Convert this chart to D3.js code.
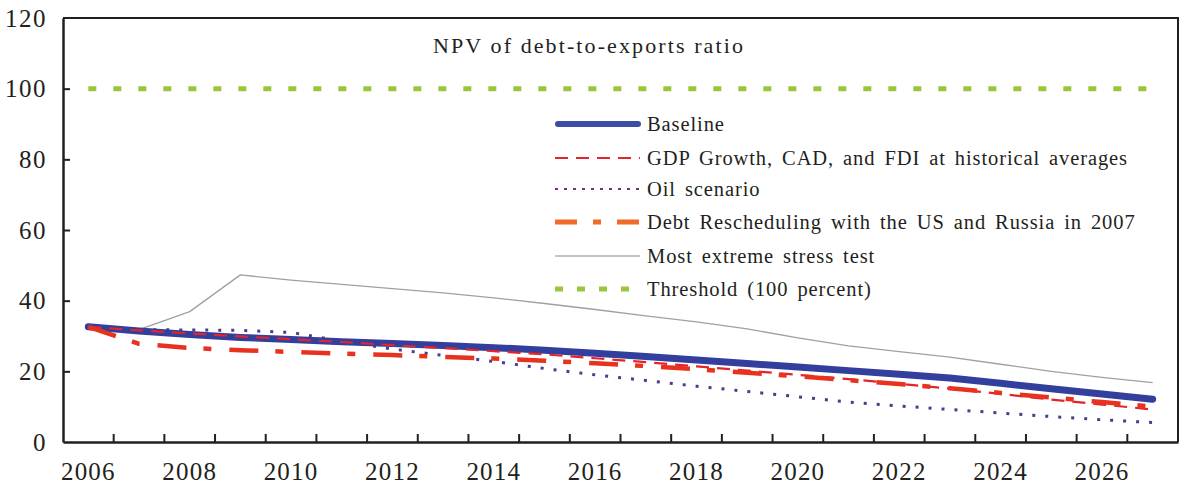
<!DOCTYPE html>
<html>
<head>
<meta charset="utf-8">
<script src="https://cdn.jsdelivr.net/npm/d3@7"></script>
<style>
  html, body { margin: 0; padding: 0; background: #fff; }
  svg { display: block; }
  text { font-family: "Liberation Serif", "Times New Roman", serif; fill: #231f20; }
</style>
</head>
<body>
<svg id="chart" width="1183" height="485"></svg>
<script>
const years = d3.range(2006, 2028);
const baseline = [32.6, 31.4, 30.4, 29.6, 29.0, 28.4, 27.9, 27.3, 26.7, 26.0, 25.1, 24.2, 23.2, 22.2, 21.2, 20.2, 19.2, 18.1, 16.6, 15.1, 13.6, 12.1];
const gdpHist = [32.6, 31.6, 30.7, 29.9, 29.1, 28.3, 27.4, 26.6, 25.7, 24.8, 23.7, 22.6, 21.4, 20.2, 19.0, 17.8, 16.5, 15.1, 13.6, 12.0, 10.6, 9.2];
const oilScen = [32.6, 31.8, 31.7, 31.6, 31.0, 28.5, 26.3, 24.5, 22.8, 20.8, 19.0, 17.4, 15.8, 14.3, 12.8, 11.3, 10.2, 9.2, 8.2, 7.2, 6.3, 5.5];
const debtResch = [32.6, 27.8, 26.6, 26.0, 25.5, 25.0, 24.6, 24.1, 23.6, 23.0, 22.3, 21.5, 20.6, 19.6, 18.6, 17.5, 16.4, 15.2, 13.9, 12.6, 11.3, 10.0];
const stressTest = [32.6, 31.8, 36.9, 47.3, 45.8, 44.6, 43.4, 42.2, 40.8, 39.2, 37.5, 35.7, 34.0, 32.0, 29.5, 27.2, 25.6, 24.0, 22.0, 20.0, 18.3, 16.8];
const threshold = years.map(() => 100);
const yTicks = [0, 20, 40, 60, 80, 100, 120];
const xLabelYears = years.filter((d, i) => i % 2 === 0);
const title = "NPV of debt-to-exports ratio";
const seriesNames = [
  "Baseline",
  "GDP Growth, CAD, and FDI at historical averages",
  "Oil scenario",
  "Debt Rescheduling with the US and Russia in 2007",
  "Most extreme stress test",
  "Threshold (100 percent)"
];

const L = 63, R = 1178, T = 18, B = 442;
const svg = d3.select("#chart");
const x = d3.scaleBand().domain(years).range([L, R]).paddingInner(0).paddingOuter(0);
const y = d3.scaleLinear().domain([0, 120]).range([B, T]);
const cx = yr => x(yr) + x.bandwidth() / 2;

const styles = [
  { data: baseline,   color: "#323f9c", width: 7,   dash: null,        cap: "round", lcolor: "#3b4ea3", lwidth: 6 },
  { data: gdpHist,    color: "#e3242b", width: 2.2, dash: "13,8",      cap: "butt",  lcolor: "#e3242b", lwidth: 2.2, ldash: "13,8" },
  { data: oilScen,    color: "#4b3c8c", width: 3,   dash: "3,10",      cap: "butt",  lcolor: "#7a2a8a", lwidth: 2, ldash: "3,6" },
  { data: debtResch,  color: "#e8321e", width: 4.5, dash: "29,17,8,18", cap: "butt", lcolor: "#f06a2c", lwidth: 5, ldash: "22,16,8,16" },
  { data: stressTest, color: "#a0a0a0", width: 1.3, dash: null,        cap: "butt",  lcolor: "#8a8a8a", lwidth: 1.2 },
  { data: threshold,  color: "#99c63a", width: 5,   dash: "8,17",      cap: "butt",  lcolor: "#99c63a", lwidth: 5, ldash: "8,14" }
];

// frame
svg.append("path")
  .attr("d", `M${L},${T}H${R}V${B}`)
  .attr("fill", "none").attr("stroke", "#231f20").attr("stroke-width", 2);

// y axis
const yAxis = d3.axisLeft(y).tickValues(yTicks).tickSizeInner(-7).tickSizeOuter(0).tickPadding(16)
  .tickFormat(d3.format("d"));
const gy = svg.append("g").attr("transform", `translate(${L},0)`).call(yAxis);
gy.select(".domain").attr("stroke", "#231f20").attr("stroke-width", 2.5);
gy.selectAll(".tick line").attr("stroke", "#231f20").attr("stroke-width", 2)
  .filter(d => d === 0 || d === 120).remove();
gy.selectAll(".tick text").attr("font-size", 25).attr("letter-spacing", 1.5)
  .attr("font-family", "Liberation Serif").attr("fill", "#231f20");

// x axis labels
const xAxis = d3.axisBottom(x).tickValues(xLabelYears).tickSize(0).tickPadding(20).tickFormat(d3.format("d"));
const gx = svg.append("g").attr("transform", `translate(0,${B})`).call(xAxis);
gx.select(".domain").attr("stroke", "#231f20").attr("stroke-width", 2.5);
gx.selectAll(".tick text").attr("font-size", 25).attr("letter-spacing", 1.2)
  .attr("font-family", "Liberation Serif").attr("fill", "#231f20");

// x tick marks at category boundaries
svg.append("g").selectAll("line").data(years.slice(1)).join("line")
  .attr("x1", d => x(d)).attr("x2", d => x(d))
  .attr("y1", B).attr("y2", B - 8)
  .attr("stroke", "#231f20").attr("stroke-width", 2);

// title
svg.append("text").attr("x", 589).attr("y", 53).attr("text-anchor", "middle")
  .attr("font-size", 22).attr("letter-spacing", 2.1).text(title);

// series lines
const line = d3.line().x((d, i) => cx(years[i])).y(d => y(d));
const drawOrder = [4, 5, 2, 0, 1, 3];
drawOrder.forEach(k => {
  const s = styles[k];
  svg.append("path").datum(s.data)
    .attr("d", line)
    .attr("fill", "none")
    .attr("stroke", s.color)
    .attr("stroke-width", s.width)
    .attr("stroke-linecap", s.cap)
    .attr("stroke-linejoin", "round")
    .attr("stroke-dasharray", s.dash);
});

// legend
const legRows = [124, 158, 189, 222, 256, 289];
const lg = svg.append("g");
seriesNames.forEach((name, i) => {
  const s = styles[i];
  const ry = legRows[i];
  lg.append("line")
    .attr("x1", i === 0 ? 558 : 555).attr("x2", i === 0 ? 638 : 640)
    .attr("y1", ry).attr("y2", ry)
    .attr("stroke", s.lcolor).attr("stroke-width", s.lwidth)
    .attr("stroke-linecap", i === 0 ? "round" : "butt")
    .attr("stroke-dasharray", s.ldash || null);
  lg.append("text").attr("x", 647).attr("y", ry + 7)
    .attr("font-size", 20.5).attr("letter-spacing", 0.9).attr("word-spacing", 3)
    .text(name);
});
</script>
</body>
</html>
